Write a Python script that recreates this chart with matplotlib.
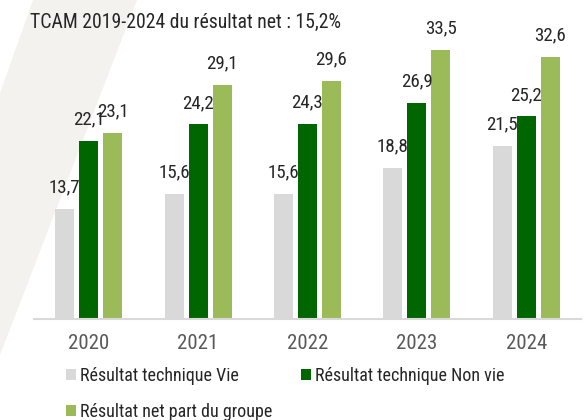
import matplotlib
matplotlib.use("Agg")
import matplotlib.pyplot as plt
import numpy as np
from matplotlib.patches import Polygon

plt.rcParams['font.family'] = ['Roboto Condensed', 'DejaVu Sans']

# data
years = ['2020', '2021', '2022', '2023', '2024']
vie = [13.7, 15.6, 15.6, 18.8, 21.5]
non_vie = [22.1, 24.2, 24.3, 26.9, 25.2]
net_groupe = [23.1, 29.1, 29.6, 33.5, 32.6]
series_names = ['Résultat technique Vie', 'Résultat technique Non vie',
                'Résultat net part du groupe']
title = 'TCAM 2019-2024 du résultat net : 15,2%'

colors = ['#d9d9d9', '#006600', '#9bbb59']

W, H = 586, 420
fig = plt.figure(figsize=(W / 100, H / 100), dpi=100)

# light diagonal band in the background (behind the axes)
band = [(33, 0), (137, 0), (0, 355), (0, 93)]
fig.patches.append(Polygon([(x / W, 1 - y / H) for x, y in band], closed=True,
                           transform=fig.transFigure, facecolor='#f3f2ef',
                           edgecolor='none', zorder=-1))

ax = fig.add_axes([34 / W, (H - 319) / H, 547 / W, 281.4 / H])
ax.set_facecolor('none')

x = np.arange(len(years))
width = 0.174
offs = [-0.219, 0, 0.219]
bars = []
for vals, off, col, name in zip([vie, non_vie, net_groupe], offs, colors, series_names):
    b = ax.bar(x + off, vals, width, color=col, label=name, zorder=2)
    bars.append(b)
for b, vals in zip(bars, [vie, non_vie, net_groupe]):
    ax.bar_label(b, labels=[f'{v:.1f}'.replace('.', ',') for v in vals],
                 padding=9, fontsize=13.7, color='#262626', zorder=5)

ax.set_xlim(-0.5, 4.5)
ax.set_ylim(0, 35)
ax.set_xticks(x)
ax.set_xticklabels(years, fontsize=15, color='#595959')
ax.tick_params(axis='x', length=0, pad=11)
ax.set_yticks([])
for s in ['top', 'right', 'left']:
    ax.spines[s].set_visible(False)
ax.spines['bottom'].set_color('#d9d9d9')
ax.spines['bottom'].set_linewidth(1.5)

fig.text(30 / W, 1 - 28 / H, title, fontsize=14.2, color='#262626', va='baseline')

handles = [bars[0], bars[2], bars[1]]
labels = [series_names[0], series_names[2], series_names[1]]
fig.legend(handles, labels, ncol=2, loc='upper left',
           bbox_to_anchor=(66 / W, 1 - 367 / H), frameon=False,
           fontsize=13, handlelength=0.55, handleheight=0.55,
           handletextpad=0.25, columnspacing=1.55, labelspacing=1.0,
           borderpad=0, borderaxespad=0, labelcolor='#262626')

fig.savefig('out.png', dpi=100)
